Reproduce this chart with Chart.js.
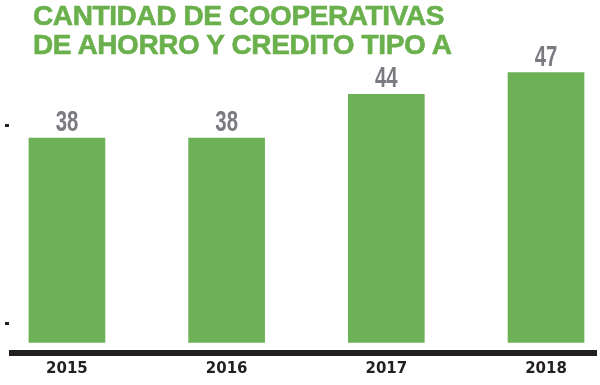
<!DOCTYPE html>
<html lang="es">
<head>
    <meta charset="UTF-8">
    <title>Cantidad de cooperativas de ahorro y credito tipo A</title>
    <script src="https://cdn.jsdelivr.net/npm/chart.js@4.4.1/dist/chart.umd.min.js"></script>
    <style>
        * {
            margin: 0;
            padding: 0;
            box-sizing: border-box;
        }

        body {
            width: 600px;
            height: 385px;
            background: #fff;
            overflow: hidden;
        }

        .wrap {
            position: relative;
            width: 600px;
            height: 385px;
        }

        /* Title sits over the canvas, top left */
        .title {
            position: absolute;
            left: 33px;
            top: 1px;
            font-family: 'Liberation Sans', Arial, sans-serif;
            font-weight: bold;
            font-size: 28px;
            line-height: 29px;
            letter-spacing: -0.4px;
            color: #6ab04c;
            -webkit-text-stroke: 0.6px #6ab04c;
            z-index: 2;
        }
    </style>
</head>
<body>
    <div class="wrap">
        <div class="title">CANTIDAD DE COOPERATIVAS<br>DE AHORRO Y CREDITO TIPO A</div>
        <canvas id="chart" width="600" height="385"></canvas>
    </div>

    <script>
        // Data
        const years = [2015, 2016, 2017, 2018];
        const cooperativas = [38, 38, 44, 47];
        const yTickMarks = [12.4, 39.7];

        // Value labels above each bar (condensed look by squeezing the text)
        const valueLabels = {
            id: 'valueLabels',
            afterDatasetsDraw(chart) {
                const ctx = chart.ctx;
                const meta = chart.getDatasetMeta(0);
                ctx.save();
                ctx.fillStyle = '#797b80';
                ctx.font = 'bold 29px "Liberation Sans", Arial, sans-serif';
                ctx.textAlign = 'center';
                ctx.textBaseline = 'alphabetic';
                meta.data.forEach((bar, i) => {
                    ctx.save();
                    ctx.translate(bar.x, bar.y - 7);
                    ctx.scale(0.7, 1);
                    ctx.fillText(String(cooperativas[i]), 0, 0);
                    ctx.restore();
                });
                ctx.restore();
            }
        };

        new Chart(document.getElementById('chart'), {
            type: 'bar',
            data: {
                datasets: [{
                    data: years.map((y, i) => ({ x: y, y: cooperativas[i] })),
                    backgroundColor: '#6cb155',
                    borderWidth: 0,
                    barThickness: 76,
                    base: 9.85
                }]
            },
            options: {
                responsive: false,
                animation: false,
                layout: {
                    padding: { top: 0, left: 5, right: 4, bottom: 0 }
                },
                plugins: {
                    legend: { display: false },
                    tooltip: { enabled: false }
                },
                scales: {
                    x: {
                        type: 'linear',
                        offset: false,
                        min: 2014.656,
                        max: 2018.313,
                        afterBuildTicks: scale => {
                            scale.ticks = years.map(v => ({ value: v }));
                        },
                        grid: { display: false, drawTicks: false },
                        border: { display: true, color: '#231f20', width: 6 },
                        ticks: {
                            padding: 7,
                            color: '#231f20',
                            font: { family: 'DejaVu Sans', weight: 'bold', size: 15 },
                            callback: v => String(v)
                        }
                    },
                    y: {
                        min: 8.4,
                        max: 57,
                        afterBuildTicks: scale => {
                            scale.ticks = yTickMarks.map(v => ({ value: v }));
                        },
                        border: { display: false },
                        grid: {
                            drawOnChartArea: false,
                            drawTicks: true,
                            tickLength: 7,
                            tickWidth: 3,
                            tickColor: '#231f20',
                            tickBorderDash: [4, 10]
                        },
                        ticks: { display: false }
                    }
                }
            },
            plugins: [valueLabels]
        });
    </script>
</body>
</html>
